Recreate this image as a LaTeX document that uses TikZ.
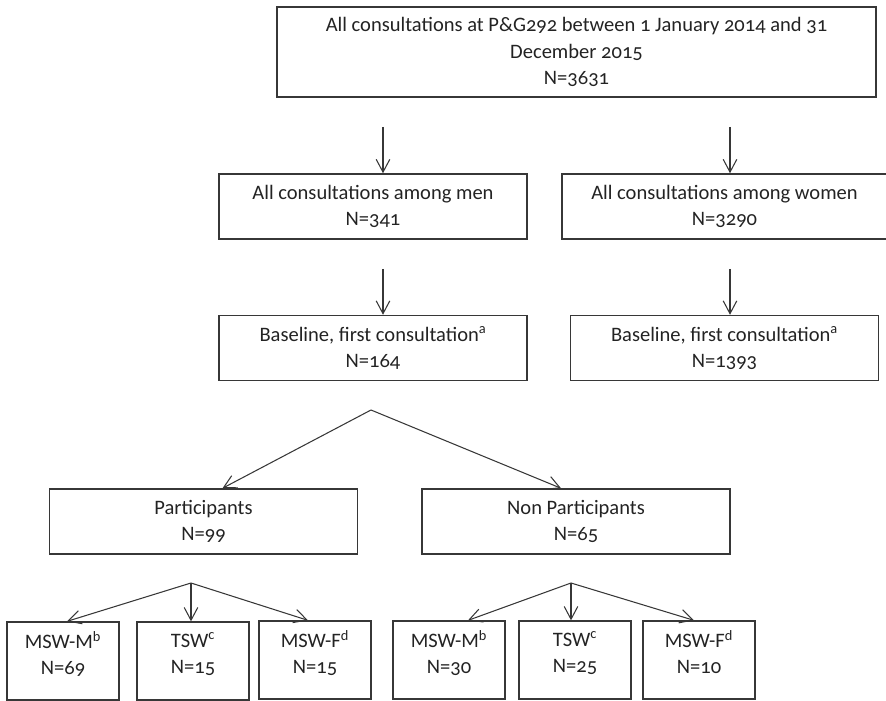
\documentclass[tikz,border=0pt]{standalone}
\usepackage{fontspec}
\setmainfont{Carlito}[Numbers=OldStyle]
\usepackage{xcolor}
\usetikzlibrary{arrows.meta, positioning, calc}

\definecolor{linegray}{RGB}{55,55,55}
\definecolor{textgray}{RGB}{35,35,35}

\begin{document}
\begin{tikzpicture}[
			x=0.025cm, y=-0.025cm,
			node distance=1.875cm and 0.5cm,
			every node/.style={draw=linegray, line width=0.9pt, rectangle, align=center, text=textgray, inner sep=0pt, font=\fontsize{14.6}{18.6}\selectfont},
			box/.style={minimum width=7.7cm, minimum height=1.63cm},
			smallbox/.style={minimum width=2.8cm, minimum height=1.95cm, text depth=0.4cm},
			arrow/.style={-{Straight Barb[length=3.2mm, width=3.4mm]}, line width=0.75pt, draw=linegray}
			]
			\useasboundingbox (0,0) rectangle (886,701);
			
			% Nodes
			\node (all_cons) [minimum width=14.975cm, minimum height=2.25cm] at (576.5,52) {All consultations at P\&G292 between 1 January 2014 and 31\\December 2015\\N=3631};
			\node (men) [box] at (373,206.5) {All consultations among men\\N=341};
			\node (women) [box, minimum width=8.125cm] at (724.5,206.5) {All consultations among women\\N=3290};
			\node (base_men) [box, below=of men] {Baseline, first consultation\textsuperscript{a}\\N=164};
			\node (base_women) [box, below=of women] {Baseline, first consultation\textsuperscript{a}\\N=1393};
			\node (part) [box] at (203.5,521.5) {Participants\\N=99};
			\node (nonpart) [box] at (576,521.5) {Non Participants\\N=65};
			\node (p_mswm) [smallbox] at (63,661) {MSW-M\textsuperscript{b}\\N=69};
			\node (p_tsw) [smallbox] at (193,661) {TSW\textsuperscript{c}\\N=15};
			\node (p_mswf) [smallbox] at (315,660) {MSW-F\textsuperscript{d}\\N=15};
			\node (n_mswm) [smallbox] at (449,660) {MSW-M\textsuperscript{b}\\N=30};
			\node (n_tsw) [smallbox] at (575,660) {TSW\textsuperscript{c}\\N=25};
			\node (n_mswf) [smallbox] at (699,660) {MSW-F\textsuperscript{d}\\N=10};
			
			% Free ends of the connections
			\coordinate (men_in) at (383,127);
			\coordinate (women_in) at (730,127);
			\coordinate (base_men_in) at (383,269);
			\coordinate (base_women_in) at (730,269);
			\coordinate (split) at (371,410);
			\coordinate (split_part) at (191,583);
			\coordinate (split_nonpart) at (571,583);
			
			% Connections
			\draw [arrow] (men_in) -- (men_in |- men.north);
			\draw [arrow] (women_in) -- (women_in |- women.north);
			\draw [arrow] (base_men_in) -- (base_men_in |- base_men.north);
			\draw [arrow] (base_women_in) -- (base_women_in |- base_women.north);
			\draw [arrow] (split) -- ($(part.north)+(19,0)$);
			\draw [arrow] (split) -- ($(nonpart.north)+(-15,0)$);
			\draw [arrow] (split_part) -- ($(p_mswm.north)+(4,0)$);
			\draw [arrow] (split_part) -- (split_part |- p_tsw.north);
			\draw [arrow] (split_part) -- ($(p_mswf.north)+(-7,0)$);
			\draw [arrow] (split_nonpart) -- ($(n_mswm.north)+(19,0)$);
			\draw [arrow] (split_nonpart) -- (split_nonpart |- n_tsw.north);
			\draw [arrow] (split_nonpart) -- ($(n_mswf.north)+(-5,0)$);
			
		\end{tikzpicture}
\end{document}
